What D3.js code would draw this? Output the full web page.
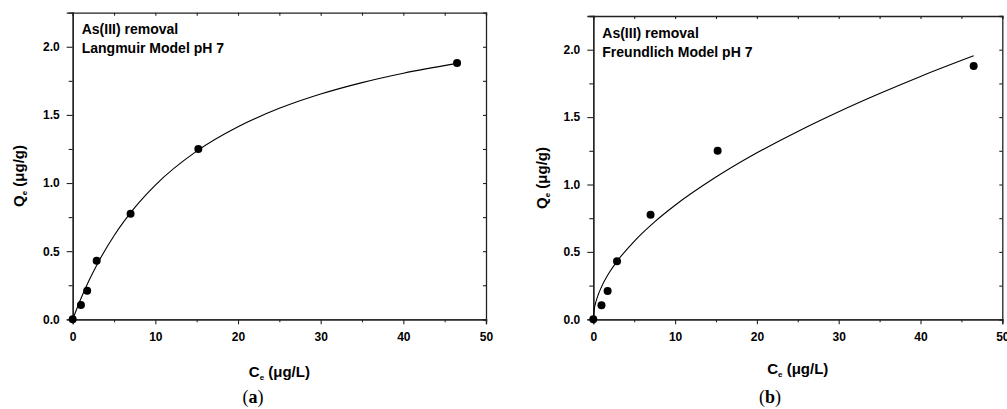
<!DOCTYPE html>
<html>
<head>
<meta charset="utf-8">
<script src="https://cdn.jsdelivr.net/npm/d3@7"></script>
<style>
  body { margin: 0; background: #fff; }
  svg { display: block; }
  text { font-family: "Liberation Sans", Arial, sans-serif; font-weight: bold; fill: #000; }
</style>
</head>
<body>
<svg id="chart" width="1007" height="409"></svg>
<script>
// measured points, Ce (ug/L) vs Qe (ug/g)
var ceValues = [0, 1.0, 1.75, 2.9, 7.0, 15.2, 46.5];
var qeValues = [0, 0.105, 0.21, 0.43, 0.775, 1.25, 1.88];

// fitted curves
var langX = [0, 1, 2, 3, 5, 7.5, 10, 15, 20, 25, 30, 35, 40, 46.5];
var langY = [0, 0.153, 0.288, 0.408, 0.613, 0.819, 0.985, 1.234, 1.413, 1.548, 1.653, 1.737, 1.806, 1.878];
var freuX = [0, 0.1, 0.3, 0.6, 1, 2, 3, 5, 7.5, 10, 15, 20, 25, 30, 35, 40, 46.5];
var freuY = [0, 0.068, 0.125, 0.182, 0.24, 0.351, 0.438, 0.579, 0.723, 0.846, 1.055, 1.235, 1.394, 1.54, 1.675, 1.802, 1.955];

var xMajor = [0, 10, 20, 30, 40, 50];
var xMinor = [5, 15, 25, 35, 45];
var yMajor = [0, 0.5, 1.0, 1.5, 2.0];
var yMinor = [0.25, 0.75, 1.25, 1.75];

var panels = [
  { left: 72.7, right: 486, top: 12.7, bottom: 319.3, lines: ["As(III) removal", "Langmuir Model pH 7"],
    fitX: langX, fitY: langY, tag: "a", tagX: 253, titleY: 377, ytX: 23.5, ytY: 176 },
  { left: 593.3, right: 1002.3, top: 16, bottom: 319.3, lines: ["As(III) removal", "Freundlich Model pH 7"],
    fitX: freuX, fitY: freuY, tag: "b", tagX: 770, titleY: 373.5, ytX: 547, ytY: 178 }
];

var svg = d3.select('#chart');

function drawPanel(p) {
  var x = d3.scaleLinear().domain([0, 50]).range([p.left, p.right]);
  var y = d3.scaleLinear().domain([0, 2.25]).range([p.bottom, p.top]);
  var g = svg.append('g');

  // outward axes
  g.append('g').attr('transform', 'translate(0,' + p.bottom + ')')
    .call(d3.axisBottom(x).tickValues(xMajor).tickSize(5).tickPadding(8).tickFormat(d3.format('d')));
  g.append('g').attr('transform', 'translate(0,' + p.bottom + ')')
    .call(d3.axisBottom(x).tickValues(xMinor).tickSize(3).tickFormat(''));
  g.append('g').attr('transform', 'translate(' + p.left + ',0)')
    .call(d3.axisLeft(y).tickValues(yMajor).tickSize(6).tickPadding(7).tickFormat(d3.format('.1f')));
  g.append('g').attr('transform', 'translate(' + p.left + ',0)')
    .call(d3.axisLeft(y).tickValues(yMinor).tickSize(4).tickFormat(''));

  // mirrored inward axes
  g.append('g').attr('transform', 'translate(0,' + p.top + ')')
    .call(d3.axisTop(x).tickValues(xMajor.concat(xMinor)).tickSize(-3).tickFormat(''));
  g.append('g').attr('transform', 'translate(' + p.right + ',0)')
    .call(d3.axisRight(y).tickValues(yMajor.concat(yMinor)).tickSize(-3).tickFormat(''));

  g.selectAll('.domain').attr('stroke', '#222').attr('stroke-width', 1.3);
  g.selectAll('.tick line').attr('stroke', '#222').attr('stroke-width', 1.1);
  g.selectAll('.tick text').style('font-size', '12px').style('font-family', '"Liberation Sans", Arial, sans-serif')
    .style('font-weight', 'bold').attr('fill', '#000');

  // fit curve
  var line = d3.line().x(function (d, i) { return x(p.fitX[i]); })
    .y(function (d) { return y(d); }).curve(d3.curveMonotoneX);
  g.append('path').datum(p.fitY).attr('d', line)
    .attr('fill', 'none').attr('stroke', '#000').attr('stroke-width', 1.1);

  // points
  g.selectAll('circle').data(qeValues).enter().append('circle')
    .attr('cx', function (d, i) { return x(ceValues[i]); })
    .attr('cy', function (d) { return y(d); })
    .attr('r', 4).attr('fill', '#000');

  // annotation
  p.lines.forEach(function (t, i) {
    g.append('text').attr('x', p.left + 9).attr('y', p.top + 21.5 + i * 19)
      .style('font-size', '14px').text(t);
  });

  // axis titles
  var xt = g.append('text').attr('x', (p.left + p.right) / 2).attr('y', p.titleY)
    .attr('text-anchor', 'middle').style('font-size', '15px');
  xt.append('tspan').text('C');
  xt.append('tspan').attr('dy', 3).style('font-size', '8px').text('e');
  xt.append('tspan').attr('dy', -3).text(' (\u03bcg/L)');

  var yt = g.append('text').attr('transform', 'translate(' + p.ytX + ',' + p.ytY + ') rotate(-90)')
    .attr('text-anchor', 'middle').style('font-size', '15px');
  yt.append('tspan').text('Q');
  yt.append('tspan').attr('dy', 3).style('font-size', '8px').text('e');
  yt.append('tspan').attr('dy', -3).text(' (\u03bcg/g)');

  var tg = g.append('text').attr('x', p.tagX).attr('y', 403).attr('text-anchor', 'middle')
    .style('font-family', '"Liberation Serif", "DejaVu Serif", serif').style('font-size', '18px');
  tg.append('tspan').style('font-weight', 'normal').text('(');
  tg.append('tspan').style('font-weight', 'bold').text(p.tag);
  tg.append('tspan').style('font-weight', 'normal').text(')');
}

panels.forEach(drawPanel);
</script>
</body>
</html>
